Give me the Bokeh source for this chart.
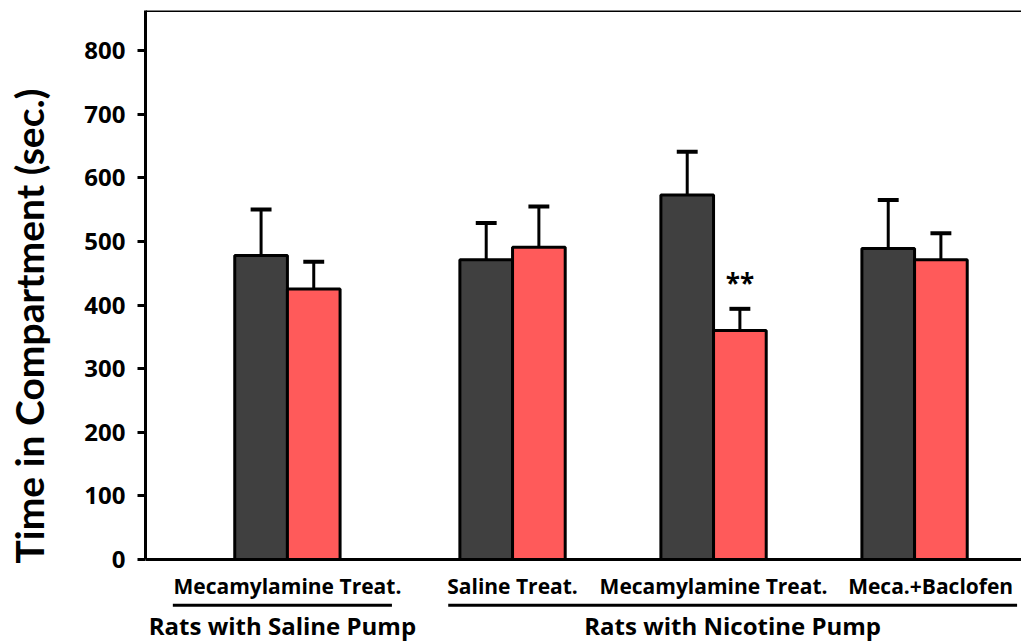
from bokeh.plotting import figure
from bokeh.models import Range1d, FixedTicker, Span, LinearAxis
from bokeh.core.properties import value
from bokeh.embed import file_html
from bokeh.resources import INLINE

# ---- data ----
pump_groups = ["Rats with Saline Pump", "Rats with Nicotine Pump"]
treatments = ["Mecamylamine Treat.", "Saline Treat.", "Mecamylamine Treat.", "Meca.+Baclofen"]
treatment_pump = [0, 1, 1, 1]
dark_values = [478, 471, 573, 489]
dark_errors = [72, 58, 68, 76]
red_values = [425, 491, 360, 471]
red_errors = [43, 64, 34, 42]
red_marks = ["", "", "**", ""]
y_ticks = [0, 100, 200, 300, 400, 500, 600, 700, 800]
y_label = "Time in Compartment (sec.)"

# ---- layout / style ----
DARK = "#404040"
RED = "#FF5A5A"
GAP = 0.12
BW = 0.262
CAP = 0.052
Y_TOP = 863
Y_BOT = -129
FONT = value("Open Sans")
label_shift = [0, 0, 0, 0.08]

centers = [i + GAP * treatment_pump[i] for i in range(len(treatments))]
dark_x = [c - BW / 2 for c in centers]
red_x = [c + BW / 2 for c in centers]

p = figure(width=1021, height=641, output_backend="svg", toolbar_location=None,
           x_range=Range1d(-0.706, 3.652), y_range=Range1d(Y_BOT, Y_TOP),
           x_axis_location=None, min_border_left=145, min_border_right=0,
           min_border_top=10, min_border_bottom=0)
p.outline_line_color = None
p.grid.visible = False
p.background_fill_color = "white"

ax = p.yaxis[0]
ax.ticker = FixedTicker(ticks=y_ticks)
ax.bounds = (0, Y_TOP)
ax.axis_line_width = 3
ax.axis_line_color = "black"
ax.major_tick_line_width = 3
ax.major_tick_out = 8
ax.major_tick_in = 0
ax.minor_tick_line_color = None
ax.major_label_standoff = 12
ax.major_label_text_font = "Open Sans"
ax.major_label_text_font_style = "bold"
ax.major_label_text_font_size = "24px"
ax.major_label_text_color = "black"

# y axis title, centred on the lower part of the axis like the original
title_ax = LinearAxis(ticker=FixedTicker(ticks=[]), bounds=(0, 735),
                      axis_line_color=None, major_tick_line_color=None,
                      minor_tick_line_color=None, major_label_text_font_size="0px",
                      axis_label=y_label, axis_label_standoff=30,
                      axis_label_text_font="Lato", axis_label_text_font_style="bold",
                      axis_label_text_font_size="39px", axis_label_text_color="black")
p.add_layout(title_ax, "left")

# frame lines
p.add_layout(Span(location=0, dimension="width", line_color="black", line_width=3))
p.add_layout(Span(location=Y_TOP, dimension="width", line_color="black", line_width=3))

# bars
p.vbar(x=dark_x, width=BW, bottom=0, top=dark_values, fill_color=DARK,
       line_color="black", line_width=3)
p.vbar(x=red_x, width=BW, bottom=0, top=red_values, fill_color=RED,
       line_color="black", line_width=3)

# error bars (upper)
for xs, vals, errs in ((dark_x, dark_values, dark_errors), (red_x, red_values, red_errors)):
    ups = [v + e for v, e in zip(vals, errs)]
    p.segment(x0=xs, y0=vals, x1=xs, y1=ups, line_color="black", line_width=3)
    p.segment(x0=[x - CAP for x in xs], y0=ups, x1=[x + CAP for x in xs], y1=ups,
              line_color="black", line_width=4)

# significance marks
mx = [x for x, m in zip(red_x, red_marks) if m]
my = [v + e + 40 for v, e, m in zip(red_values, red_errors, red_marks) if m]
mt = [m for m in red_marks if m]
p.text(x=mx, y=my, text=mt, text_align="center", text_baseline="middle",
       text_font=FONT, text_font_style="bold", text_font_size="26px", text_color="black")

# category labels
p.text(x=[c + s for c, s in zip(centers, label_shift)], y=[-41] * len(centers),
       text=treatments, text_align="center", text_baseline="middle", text_font=FONT,
       text_font_style="bold", text_font_size="21px", text_color="black")

# group underlines and labels
pad_left = [0.57, 0.32]
pad_right = [0.52, 0.51]
for g, name in enumerate(pump_groups):
    idx = [i for i, t in enumerate(treatment_pump) if t == g]
    x0 = centers[idx[0]] - pad_left[g]
    x1 = centers[idx[-1]] + pad_right[g]
    p.segment(x0=[x0], y0=[-72], x1=[x1], y1=[-72], line_color="black", line_width=3)
    p.text(x=[(x0 + x1) / 2], y=[-104], text=[name], text_align="center",
           text_baseline="middle", text_font=FONT, text_font_style="bold",
           text_font_size="24px", text_color="black")

open("out.html", "w").write(file_html(p, INLINE))
